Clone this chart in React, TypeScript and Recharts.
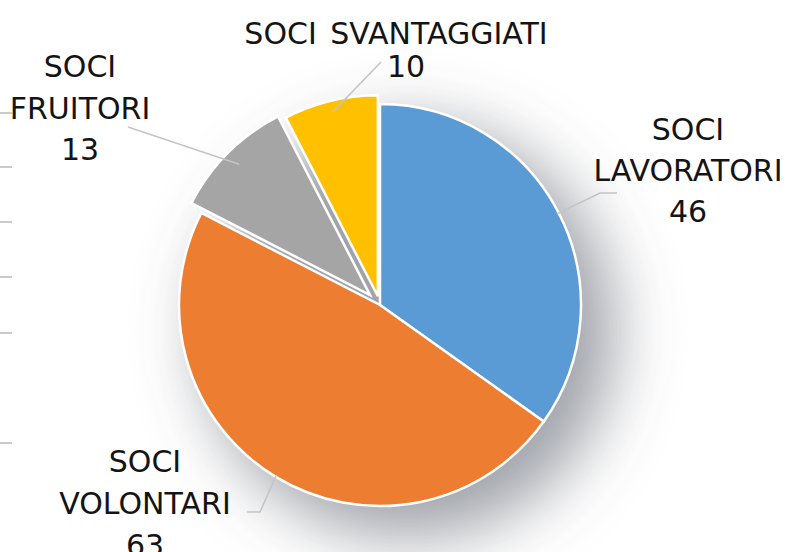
import { PieChart, Pie, Cell } from 'recharts'

const CATEGORIES = ['SOCI LAVORATORI', 'SOCI VOLONTARI', 'SOCI FRUITORI', 'SOCI SVANTAGGIATI']
const VALUES = [46, 63, 13, 10]
const COLORS = ['#5B9BD5', '#ED7D31', '#A5A5A5', '#FFC000']

// how far each slice is pulled out of the pie (px)
const EXPLODE = [0, 0, 14, 9]

// label placement relative to the pie centre: first baseline, line gap, leader elbow/end
const LABEL_LAYOUT = [
  { dx: 308, dy: -165, gap: 41, split: true, valueDx: 0, elbow: [220, -112], end: [237, -112] },
  { dx: -235, dy: 167, gap: 42, split: true, valueDx: 0, elbow: [-120, 207], end: [-133, 207] },
  { dx: -300, dy: -228, gap: 41.5, split: true, valueDx: 0, elbow: [-252, -178], end: [-252, -178] },
  { dx: 16, dy: -261, gap: 33, split: false, valueDx: 10, elbow: [1, -243], end: [1, -243] },
]

// stray tick marks at the left edge of the original picture
const EDGE_TICKS = [113, 167, 222, 277, 333, 443]

const CX = 380
const CY = 305
const R = 201
const RAD = Math.PI / 180

const data = CATEGORIES.map((name, i) => ({ name, value: VALUES[i] }))
const total = VALUES.reduce((a, b) => a + b, 0)
const shadowData = [{ name: 'shadow', value: total }]

// mid angle of each slice (start at 12 o'clock, clockwise)
const midAngles = VALUES.map((v, i) => {
  const before = VALUES.slice(0, i).reduce((a, b) => a + b, 0)
  return 90 - (360 * (before + v / 2)) / total
})

const FONT = "'DejaVu Sans', sans-serif"

function renderLabel(props: any) {
  const { cx, cy, midAngle, outerRadius, index, name, value } = props
  const lay = LABEL_LAYOUT[index]
  const sx = cx + (outerRadius - 2) * Math.cos(-midAngle * RAD)
  const sy = cy + (outerRadius - 2) * Math.sin(-midAngle * RAD)
  const lines: string[] = lay.split ? name.split(' ') : [name]
  const tx = cx + lay.dx
  const ty = cy + lay.dy
  return (
    <g key={`lbl-${index}`}>
      <polyline
        points={`${sx},${sy} ${cx + lay.elbow[0]},${cy + lay.elbow[1]} ${cx + lay.end[0]},${cy + lay.end[1]}`}
        fill="none"
        stroke="#c4c4c4"
        strokeWidth={1.5}
      />
      {lines.map((l, j) => (
        <text key={j} x={tx} y={ty + j * lay.gap} textAnchor="middle" fill="#141414" fontSize={30} fontFamily={FONT} wordSpacing={4}>
          {l}
        </text>
      ))}
      <text
        x={tx + lay.valueDx}
        y={ty + lines.length * lay.gap}
        textAnchor="middle"
        fill="#141414"
        fontSize={30}
        fontFamily={FONT}
      >
        {value}
      </text>
    </g>
  )
}

export default function App() {
  return (
    <div style={{ position: 'absolute', left: 0, top: 0, width: 794, height: 552, background: '#fff', overflow: 'hidden' }}>
      <svg width={0} height={0} style={{ position: 'absolute' }}>
        <defs>
          <filter id="pieShadow" filterUnits="userSpaceOnUse" x={0} y={0} width={794} height={552}>
            <feGaussianBlur stdDeviation={32} />
          </filter>
        </defs>
      </svg>
      <PieChart width={794} height={552} margin={{ top: 0, right: 0, bottom: 0, left: 0 }}>
        {/* soft drop shadow */}
        <Pie
          data={shadowData}
          dataKey="value"
          cx={CX + 28}
          cy={CY + 26}
          outerRadius={R + 6}
          startAngle={90}
          endAngle={-270}
          stroke="none"
          isAnimationActive={false}
        >
          <Cell fill="#5f6570" fillOpacity={0.6} filter="url(#pieShadow)" />
        </Pie>
        {/* slices that stay in place */}
        <Pie
          data={data}
          dataKey="value"
          cx={CX}
          cy={CY}
          outerRadius={R}
          startAngle={90}
          endAngle={-270}
          isAnimationActive={false}
        >
          {data.map((d, i) => (
            <Cell
              key={d.name}
              fill={EXPLODE[i] ? 'transparent' : COLORS[i]}
              stroke={EXPLODE[i] ? 'none' : '#fff'}
              strokeWidth={2.5}
            />
          ))}
        </Pie>
        {/* exploded slices */}
        {EXPLODE.map((e, k) =>
          e ? (
            <Pie
              key={`ex-${k}`}
              data={data}
              dataKey="value"
              cx={CX + e * Math.cos(-midAngles[k] * RAD)}
              cy={CY + e * Math.sin(-midAngles[k] * RAD)}
              outerRadius={R}
              startAngle={90}
              endAngle={-270}
              isAnimationActive={false}
            >
              {data.map((d, i) => (
                <Cell
                  key={d.name}
                  fill={i === k ? COLORS[i] : 'transparent'}
                  stroke={i === k ? '#fff' : 'none'}
                  strokeWidth={2.5}
                />
              ))}
            </Pie>
          ) : null
        )}
        {/* labels and leader lines on top */}
        <Pie
          data={data}
          dataKey="value"
          cx={CX}
          cy={CY}
          outerRadius={R}
          startAngle={90}
          endAngle={-270}
          label={renderLabel}
          labelLine={false}
          isAnimationActive={false}
        >
          {data.map((d) => (
            <Cell key={d.name} fill="transparent" stroke="none" />
          ))}
        </Pie>
      </PieChart>
      <svg width={20} height={552} style={{ position: 'absolute', left: 0, top: 0 }}>
        {EDGE_TICKS.map((y) => (
          <line key={y} x1={0} x2={12} y1={y} y2={y} stroke="#b8b8b8" strokeWidth={1.5} />
        ))}
      </svg>
    </div>
  )
}
